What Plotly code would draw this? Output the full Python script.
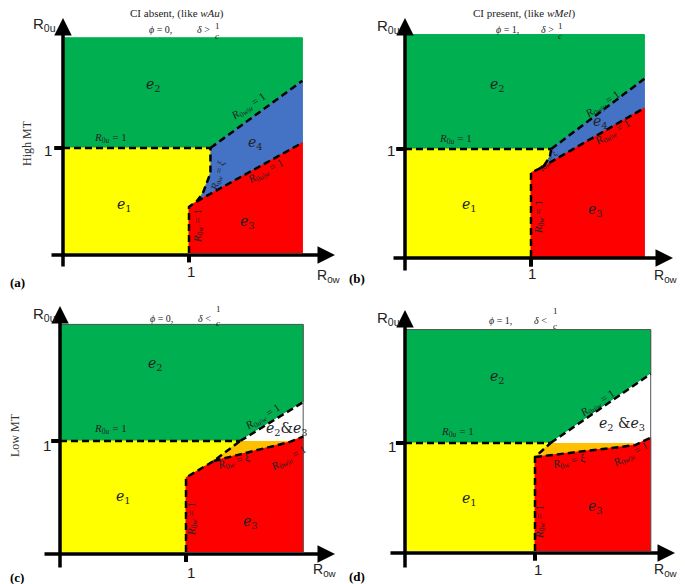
import plotly.graph_objects as go

W, H = 685, 584
OFF = 8  # margen del body de la pagina
FW, FH = W - OFF, H - OFF

GREEN = "#00b050"
YELLOW = "#ffff00"
BLUE = "#4472c4"
RED = "#ff0000"
ORANGE = "#ffc000"
WHITE = "#ffffff"

# regiones de equilibrio, en unidades del umbral (R = 1)
# (a) CI ausente, MT alta
a_green = [(0, 1), (0, 2.05), (1.90, 2.05), (1.90, 1.64), (1.17, 1)]
a_yellow = [(0, 0), (0, 1), (1.17, 1), (1.17, 0.76), (1.11, 0.57), (1.06, 0.49), (1, 0.44), (1, 0)]
a_blue = [(1.17, 1), (1.90, 1.64), (1.90, 1.05), (1.06, 0.49), (1.11, 0.57), (1.17, 0.76)]
a_red = [(1, 0), (1, 0.44), (1.06, 0.49), (1.90, 1.05), (1.90, 0)]
a_r0u = [(0, 1), (1.17, 1)]
a_xi = [(1, 0), (1, 0.44), (1.06, 0.49), (1.11, 0.57), (1.17, 0.76), (1.17, 1)]
a_upper = [(1.17, 1), (1.90, 1.64)]
a_lower = [(1.06, 0.49), (1.90, 1.05)]

# (b) CI presente, MT alta
b_green = [(0, 1), (0, 2.06), (1.90, 2.06), (1.90, 1.65), (1.16, 1)]
b_yellow = [(0, 0), (0, 1), (1.16, 1), (1.15, 0.93), (1.10, 0.84), (1.07, 0.82), (1, 0.78), (1, 0)]
b_blue = [(1.16, 1), (1.90, 1.65), (1.90, 1.38), (1.07, 0.82), (1.10, 0.84), (1.15, 0.93)]
b_red = [(1, 0), (1, 0.78), (1.07, 0.82), (1.90, 1.38), (1.90, 0)]
b_r0u = [(0, 1), (1.16, 1)]
b_xi = [(1, 0), (1, 0.78), (1.07, 0.82), (1.10, 0.84), (1.15, 0.93), (1.16, 1)]
b_upper = [(1.16, 1), (1.90, 1.65)]
b_lower = [(1.07, 0.82), (1.90, 1.38)]

# (c) CI ausente, MT baja
c_green = [(0, 1), (0, 2.05), (1.93, 2.05), (1.93, 1.35), (1.43, 1)]
c_yellow = [(0, 0), (0, 1), (1.43, 1), (1.22, 0.82), (1, 0.67), (1, 0)]
c_orange = [(1.22, 0.82), (1.43, 1), (1.82, 1), (1.82, 0.99)]
c_white = [(1.43, 1), (1.93, 1.35), (1.93, 1.04), (1.82, 0.99), (1.82, 1)]
c_red = [(1, 0), (1, 0.67), (1.22, 0.82), (1.82, 0.99), (1.93, 1.04), (1.93, 0)]
c_r0u = [(0, 1), (1.43, 1)]
c_xi = [(1, 0), (1, 0.67), (1.22, 0.82), (1.43, 1)]
c_upper = [(1.43, 1), (1.93, 1.35)]
c_lower = [(1.22, 0.82), (1.82, 0.99), (1.93, 1.04)]
c_edge = [(0, 2.05), (1.93, 2.05), (1.93, 0)]

# (d) CI presente, MT baja
d_green = [(0, 1), (0, 2.05), (1.89, 2.05), (1.89, 1.64), (1.12, 1)]
d_yellow = [(0, 0), (0, 1), (1.12, 1), (1, 0.87), (1, 0)]
d_orange = [(1, 0.87), (1.12, 1), (1.77, 1), (1.77, 0.98)]
d_white = [(1.12, 1), (1.89, 1.64), (1.89, 1.05), (1.77, 0.98), (1.77, 1)]
d_red = [(1, 0), (1, 0.87), (1.77, 0.98), (1.89, 1.05), (1.89, 0)]
d_r0u = [(0, 1), (1.12, 1)]
d_xi = [(1, 0), (1, 0.87), (1.12, 1)]
d_upper = [(1.12, 1), (1.89, 1.64)]
d_lower = [(1, 0.87), (1.77, 0.98), (1.89, 1.05)]
d_edge = [(0, 2.05), (1.89, 2.05), (1.89, 0)]

# geometria de cada panel en pixeles: origen, tamano de la unidad, caja
PANELS = [
    dict(origin=(63, 253), unit=(126, 105), box=(0, 0, 342, 292),
         regions=[(a_green, GREEN), (a_yellow, YELLOW), (a_blue, BLUE), (a_red, RED)],
         dashed=[a_r0u, a_xi, a_upper, a_lower], edge=None,
         yarrow=((63, 18), (63, 268)), xarrow=((335, 255), (50, 255))),
    dict(origin=(405, 257), unit=(126, 108), box=(342, 0, 685, 292),
         regions=[(b_green, GREEN), (b_yellow, YELLOW), (b_blue, BLUE), (b_red, RED)],
         dashed=[b_r0u, b_xi, b_upper, b_lower], edge=None,
         yarrow=((405, 18), (405, 272)), xarrow=((673, 258), (392, 258))),
    dict(origin=(60, 552), unit=(126, 111), box=(0, 292, 342, 584),
         regions=[(c_green, GREEN), (c_yellow, YELLOW), (c_orange, ORANGE),
                  (c_white, WHITE), (c_red, RED)],
         dashed=[c_r0u, c_xi, c_upper, c_lower], edge=c_edge,
         yarrow=((60, 306), (60, 569)), xarrow=((335, 554), (43, 554))),
    dict(origin=(405, 551), unit=(130, 108), box=(342, 292, 685, 584),
         regions=[(d_green, GREEN), (d_yellow, YELLOW), (d_orange, ORANGE),
                  (d_white, WHITE), (d_red, RED)],
         dashed=[d_r0u, d_xi, d_upper, d_lower], edge=d_edge,
         yarrow=((405, 310), (405, 569)), xarrow=((675, 553), (389, 553))),
]


def paper(px, py):
    return (px - OFF) / FW, 1 - (py - OFF) / FH


fig = go.Figure()
layout = dict(width=FW, height=FH, margin=dict(l=0, r=0, t=0, b=0),
              paper_bgcolor="white", plot_bgcolor="rgba(0,0,0,0)",
              showlegend=False)
annotations = []
shapes = []

for i, p in enumerate(PANELS):
    xid = "x" if i == 0 else f"x{i + 1}"
    yid = "y" if i == 0 else f"y{i + 1}"
    ox, oy = p["origin"]
    ux, uy = p["unit"]
    L, T, R, B = p["box"]
    L, T = max(L, OFF), max(T, OFF)
    dx0, dy1 = paper(L, T)
    dx1, dy0 = paper(R, B)
    layout["xaxis" if i == 0 else f"xaxis{i + 1}"] = dict(
        domain=[dx0, dx1], range=[(L - ox) / ux, (R - ox) / ux],
        visible=False, fixedrange=True, anchor=yid)
    layout["yaxis" if i == 0 else f"yaxis{i + 1}"] = dict(
        domain=[dy0, dy1], range=[(oy - B) / uy, (oy - T) / uy],
        visible=False, fixedrange=True, anchor=xid)

    for poly, col in p["regions"]:
        fig.add_trace(go.Scatter(
            x=[q[0] for q in poly], y=[q[1] for q in poly], mode="lines",
            fill="toself", fillcolor=col, line=dict(color=col, width=1),
            hoverinfo="skip", xaxis=xid, yaxis=yid))
    if p["edge"]:
        fig.add_trace(go.Scatter(
            x=[q[0] for q in p["edge"]], y=[q[1] for q in p["edge"]], mode="lines",
            line=dict(color="#555555", width=1), hoverinfo="skip", xaxis=xid, yaxis=yid))
    for path in p["dashed"]:
        fig.add_trace(go.Scatter(
            x=[q[0] for q in path], y=[q[1] for q in path], mode="lines",
            line=dict(color="black", width=2.5, dash="7px,4px"),
            hoverinfo="skip", xaxis=xid, yaxis=yid))

    # marcas en 1
    shapes.append(dict(type="line", xref=xid, yref=yid, x0=1, x1=1, y0=-0.02, y1=-0.09,
                       line=dict(color="black", width=4)))
    shapes.append(dict(type="line", xref=xid, yref=yid, x0=-0.07, x1=0, y0=1, y1=1,
                       line=dict(color="black", width=4)))

    # ejes con flecha
    for head, tail in (p["yarrow"], p["xarrow"]):
        hx, hy = paper(*head)
        annotations.append(dict(
            x=hx, y=hy, xref="paper", yref="paper", text="", showarrow=True,
            ax=tail[0] - head[0], ay=tail[1] - head[1], axref="pixel", ayref="pixel",
            arrowhead=2, arrowsize=1, arrowwidth=3.5, arrowcolor="black", standoff=0))


def text(px, py, s, size=12, family="Liberation Serif", color="black", angle=0,
         anchor="center"):
    x, y = paper(px, py)
    annotations.append(dict(x=x, y=y, xref="paper", yref="paper", text=s,
                            showarrow=False, textangle=angle,
                            font=dict(size=size, family=family, color=color),
                            xanchor=anchor, yanchor="middle"))


SANS = "Liberation Sans"

# titulos
text(177, 14, "CI absent, (like <i>wAu</i>)", 11, color="#222")
text(524, 14, "CI present, (like <i>wMel</i>)", 11, color="#222")

# lineas phi / delta
for phi_pos, delta_pos, frac_x, frac_y, phi, rel in [
    ((160, 30), (203, 30), 217, (26, 36), "0", "&gt;"),
    ((507, 30), (547, 30), 560, (26, 36), "1", "&gt;"),
    ((161, 318), (204, 318), 218, (309, 323), "0", "&lt;"),
    ((500, 320), (540, 320), 555, (311, 326), "1", "&lt;"),
]:
    text(*phi_pos, f"<i>ϕ</i> = {phi},", 10, color="#222")
    text(*delta_pos, f"<i>δ</i> {rel}", 10, color="#222")
    text(frac_x, frac_y[0], "1", 9, color="#222")
    text(frac_x, frac_y[1], "<i>c</i>", 9, color="#222")

text(27, 143, "High MT", 12, color="#333", angle=-90)
text(15, 435, "Low MT", 12, color="#333", angle=-90)

# etiquetas de ejes
for (rux, ruy), (rwx, rwy), (t1x, t1y), (t2x, t2y), (lx, ly), lab in [
    ((44, 25), (329, 276), (191, 272), (48, 150), (8, 282), "(a)"),
    ((389, 26), (666, 276), (532, 273), (391, 151), (357, 278), "(b)"),
    ((44, 314), (325, 570), (191, 572), (47, 445), (8, 577), "(c)"),
    ((389, 318), (666, 570), (538, 569), (392, 446), (357, 576), "(d)"),
]:
    text(rux, ruy, "R<sub>0u</sub>", 15, SANS, "#222")
    text(rwx, rwy, "R<sub>0w</sub>", 14, SANS, "#222")
    text(t1x, t1y, "1", 15, SANS, "#222")
    text(t2x, t2y, "1", 15, SANS, "#222")
    if lx < 20:
        text(OFF, ly, f"<b>{lab}</b>", 13, anchor="left")
    else:
        text(lx, ly, f"<b>{lab}</b>", 13)

# etiquetas de regiones
E = "DejaVu Serif"
for px, py, s in [
    (153, 85, "<i>e</i><sub>2</sub>"), (125, 205, "<i>e</i><sub>1</sub>"),
    (255, 143, "<i>e</i><sub>4</sub>"), (247, 222, "<i>e</i><sub>3</sub>"),
    (497, 85, "<i>e</i><sub>2</sub>"), (469, 205, "<i>e</i><sub>1</sub>"),
    (600, 122, "<i>e</i><sub>4</sub>"), (595, 210, "<i>e</i><sub>3</sub>"),
    (155, 364, "<i>e</i><sub>2</sub>"), (123, 497, "<i>e</i><sub>1</sub>"),
    (250, 522, "<i>e</i><sub>3</sub>"), (287, 429, "<i>e</i><sub>2</sub>&amp;<i>e</i><sub>3</sub>"),
    (497, 377, "<i>e</i><sub>2</sub>"), (469, 499, "<i>e</i><sub>1</sub>"),
    (595, 507, "<i>e</i><sub>3</sub>"), (622, 424, "<i>e</i><sub>2</sub> &amp;<i>e</i><sub>3</sub>"),
]:
    text(px, py, s, 14, E, "#222")

# etiquetas de fronteras
R0U = "<i>R</i><sub>0<i>u</i></sub> = 1"
R0W = "<i>R</i><sub>0<i>w</i></sub> = 1"
RXI = "<i>R</i><sub>0<i>w</i></sub> = <i>ξ</i>"
RWU = "<i>R</i><sub>0<i>w</i>|<i>u</i></sub> = 1"
RUW = "<i>R</i><sub>0<i>u</i>|<i>w</i></sub> = 1"
for px, py, s, ang, sz in [
    (110, 138, R0U, 0, 11), (248, 107, RWU, -34, 11), (265, 172, RUW, -29, 11),
    (218, 176, RXI, -75, 10), (198, 226, R0W, -90, 11),
    (455, 139, R0U, 0, 11), (602, 105, RWU, -34, 11), (612, 133, RUW, -31, 11),
    (548, 162, RXI, -50, 8), (539, 217, R0W, -90, 11),
    (110, 429, R0U, 0, 11), (263, 417, RUW, -32, 11), (233, 462, RXI, -15, 11),
    (288, 459, RWU, -30, 11), (192, 519, R0W, -90, 11),
    (457, 432, R0U, 0, 11), (597, 404, RUW, -34, 11), (568, 462, RXI, -12, 11),
    (630, 455, RWU, -30, 11), (540, 522, R0W, -90, 11),
]:
    text(px, py, s, sz, "Liberation Serif", "#222", ang)

layout["annotations"] = annotations
layout["shapes"] = shapes
fig.update_layout(**layout)

fig.write_html("out.html")
